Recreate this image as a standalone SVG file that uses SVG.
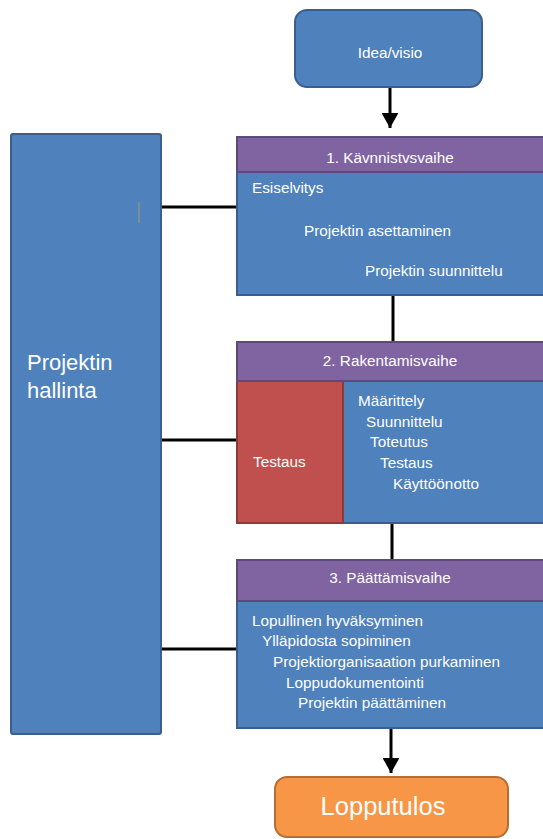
<svg xmlns="http://www.w3.org/2000/svg" width="543" height="839" viewBox="0 0 543 839">
<style>
.blue{fill:#4F81BD;stroke:#3A5F8E;stroke-width:2}
.purple{fill:#8064A2;stroke:#5E4A7A;stroke-width:2}
.red{fill:#C0504D;stroke:#8E3A38;stroke-width:2}
.orange{fill:#F79646;stroke:#B86E32;stroke-width:2}
text{font-family:"Liberation Sans",Arial,sans-serif;fill:#fff;font-size:15.3px}
.c{text-anchor:middle}
.ln{stroke:#000;stroke-width:3;fill:none}
</style>
<defs>
<marker id="ah" markerWidth="5" markerHeight="5.6" refX="5" refY="2.8" orient="auto" markerUnits="strokeWidth">
<path d="M0,0 L5,2.8 L0,5.6 z" fill="#000"/>
</marker>
</defs>
<rect width="543" height="839" fill="#fff"/>
<g id="connectors">
<line class="ln" x1="390" y1="88" x2="390" y2="128" marker-end="url(#ah)"/>
<line class="ln" x1="393" y1="296" x2="393" y2="342"/>
<line class="ln" x1="392" y1="524" x2="392" y2="560"/>
<line class="ln" x1="391" y1="729" x2="391" y2="773" marker-end="url(#ah)"/>
<line class="ln" x1="161" y1="207" x2="237" y2="207"/>
<line class="ln" x1="161" y1="440" x2="237" y2="440"/>
<line class="ln" x1="161" y1="649" x2="237" y2="649"/>
</g>
<g id="idea">
<rect class="blue" x="295" y="10" width="187" height="77" rx="12"/>
<text class="c" x="390" y="58">Idea/visio</text>
</g>
<g id="hallinta">
<rect class="blue" x="11" y="134" width="150" height="600" rx="2"/>
<line x1="139" y1="202" x2="139" y2="223" stroke="#A89A70" stroke-width="1"/>
<text x="27" y="370" style="font-size:22px">Projektin</text>
<text x="27" y="398" style="font-size:22px">hallinta</text>
</g>
<g id="vaihe1">
<rect class="blue" x="237" y="137" width="310" height="158"/>
<rect class="purple" x="237" y="137" width="310" height="35"/>
<text class="c" x="390" y="163">1. Kävnnistvsvaihe</text>
<text x="252" y="193">Esiselvitys</text>
<text x="304" y="236">Projektin asettaminen</text>
<text x="365" y="276">Projektin suunnittelu</text>
</g>
<g id="vaihe2">
<rect class="blue" x="237" y="342" width="310" height="181"/>
<rect class="red" x="237" y="381" width="106" height="142"/>
<rect class="purple" x="237" y="342" width="310" height="39"/>
<text class="c" x="390" y="366">2. Rakentamisvaihe</text>
<text x="253" y="467">Testaus</text>
<text x="358" y="406">Määrittely</text>
<text x="366" y="427">Suunnittelu</text>
<text x="370" y="447">Toteutus</text>
<text x="380" y="468">Testaus</text>
<text x="393" y="489">Käyttöönotto</text>
</g>
<g id="vaihe3">
<rect class="blue" x="237" y="560" width="310" height="168"/>
<rect class="purple" x="237" y="560" width="310" height="41"/>
<text class="c" x="390" y="583">3. Päättämisvaihe</text>
<text x="252" y="626">Lopullinen hyväksyminen</text>
<text x="262" y="646">Ylläpidosta sopiminen</text>
<text x="273" y="667">Projektiorganisaation purkaminen</text>
<text x="286" y="688">Loppudokumentointi</text>
<text x="298" y="708">Projektin päättäminen</text>
</g>
<g id="lopputulos">
<rect class="orange" x="275" y="777" width="233" height="60" rx="12"/>
<text class="c" x="383" y="815" style="font-size:25.5px">Lopputulos</text>
</g>
</svg>
